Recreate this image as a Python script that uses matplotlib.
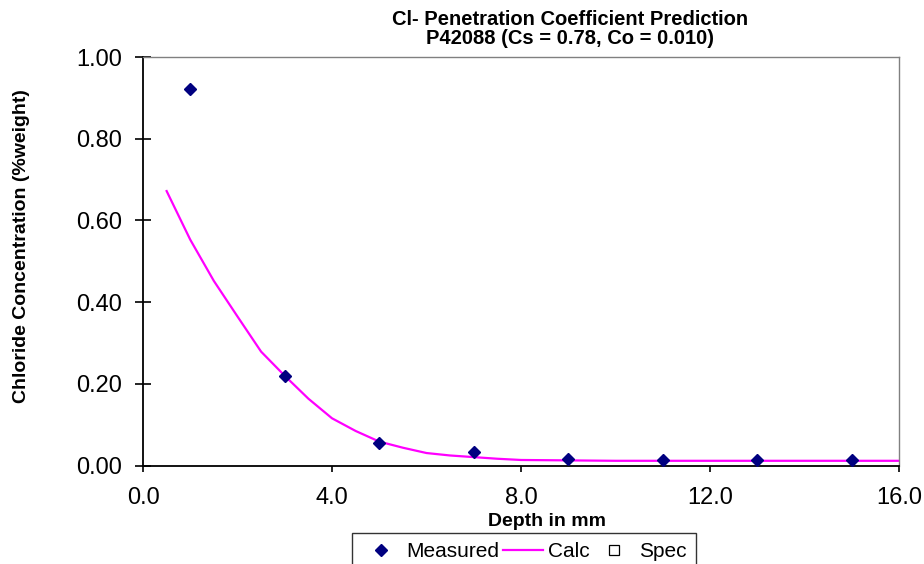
import matplotlib
matplotlib.use("Agg")
import matplotlib.pyplot as plt
from matplotlib.ticker import FormatStrFormatter

# fonts (Arial-like)
plt.rcParams['font.family'] = ['Liberation Sans', 'DejaVu Sans']

# measured chloride profile
measured_depth = [1, 3, 5, 7, 9, 11, 13, 15]
measured_conc = [0.922, 0.220, 0.056, 0.033, 0.016, 0.014, 0.014, 0.014]

# calculated curve
calc_depth = [0.5, 1.0, 1.5, 2.0, 2.5, 3.0, 3.5, 4.0, 4.5, 5.0, 5.5, 6.0, 6.5,
              7.0, 7.5, 8.0, 9.0, 10.0, 11.0, 12.0, 13.0, 14.0, 15.0, 16.0]
calc_conc = [0.672, 0.553, 0.452, 0.365, 0.279, 0.220, 0.164, 0.116, 0.085,
             0.059, 0.044, 0.031, 0.025, 0.021, 0.017, 0.014, 0.013, 0.012,
             0.012, 0.012, 0.012, 0.012, 0.012, 0.012]

# spec series is empty in the chart
spec_depth = []
spec_conc = []

title_lines = ["Cl- Penetration Coefficient Prediction",
               "P42088 (Cs = 0.78, Co = 0.010)"]
x_ticks = [0, 4, 8, 12, 16]
y_ticks = [0.0, 0.2, 0.4, 0.6, 0.8, 1.0]

W, H = 924, 564
fig = plt.figure(figsize=(W / 100, H / 100), dpi=100)
ax = fig.add_axes([143 / W, 1 - 465.7 / H, (899 - 143) / W, (465.7 - 57) / H])

ax.plot(calc_depth, calc_conc, color='#FF00FF', lw=1.6, label='Calc', zorder=2)
ax.plot(measured_depth, measured_conc, ls='none', marker='D', ms=6.4,
        color='#000080', label='Measured', zorder=3)
ax.plot(spec_depth, spec_conc, ls='none', marker='s', ms=6.5,
        mfc='white', mec='black', mew=0.9, label='Spec')

ax.set_xlim(0, 16)
ax.set_ylim(0, 1.0)
ax.set_xticks(x_ticks)
ax.set_yticks(y_ticks)
ax.xaxis.set_major_formatter(FormatStrFormatter('%.1f'))
ax.yaxis.set_major_formatter(FormatStrFormatter('%.2f'))
ax.tick_params(axis='x', direction='out', length=4.5, width=1.2, pad=10.5, labelsize=17)
ax.tick_params(axis='y', direction='inout', length=11, width=1.2, pad=9.5, labelsize=17)

for side in ['top', 'right']:
    ax.spines[side].set_color('#808080')
    ax.spines[side].set_linewidth(1.0)
for side in ['left', 'bottom']:
    ax.spines[side].set_color('black')
    ax.spines[side].set_linewidth(1.3)

# title, axis labels as figure text
fig.text(570 / W, 1 - 19.5 / H, title_lines[0], ha='center', va='center',
         fontsize=14.5, fontweight='bold')
fig.text(570 / W, 1 - 39 / H, title_lines[1], ha='center', va='center',
         fontsize=14.5, fontweight='bold')
fig.text(546.7 / W, 1 - 521.5 / H, "Depth in mm", ha='center', va='center',
         fontsize=14, fontweight='bold')
fig.text(22 / W, 1 - 246 / H, "Chloride Concentration (%weight)", ha='center',
         va='center', rotation=90, fontsize=14, fontweight='bold')

# legend order: Measured, Calc, Spec
handles, labels = ax.get_legend_handles_labels()
order = [1, 0, 2]
leg = fig.legend([handles[i] for i in order], [labels[i] for i in order],
                 loc='upper left', bbox_to_anchor=(352 / W, 1 - 533 / H),
                 ncol=3, fontsize=15, frameon=True, fancybox=False,
                 edgecolor='black', handlelength=1.9, handletextpad=0.25,
                 columnspacing=0.2, borderpad=0.45, borderaxespad=0)
leg.get_frame().set_linewidth(1.0)

fig.savefig('out.png', dpi=100)
